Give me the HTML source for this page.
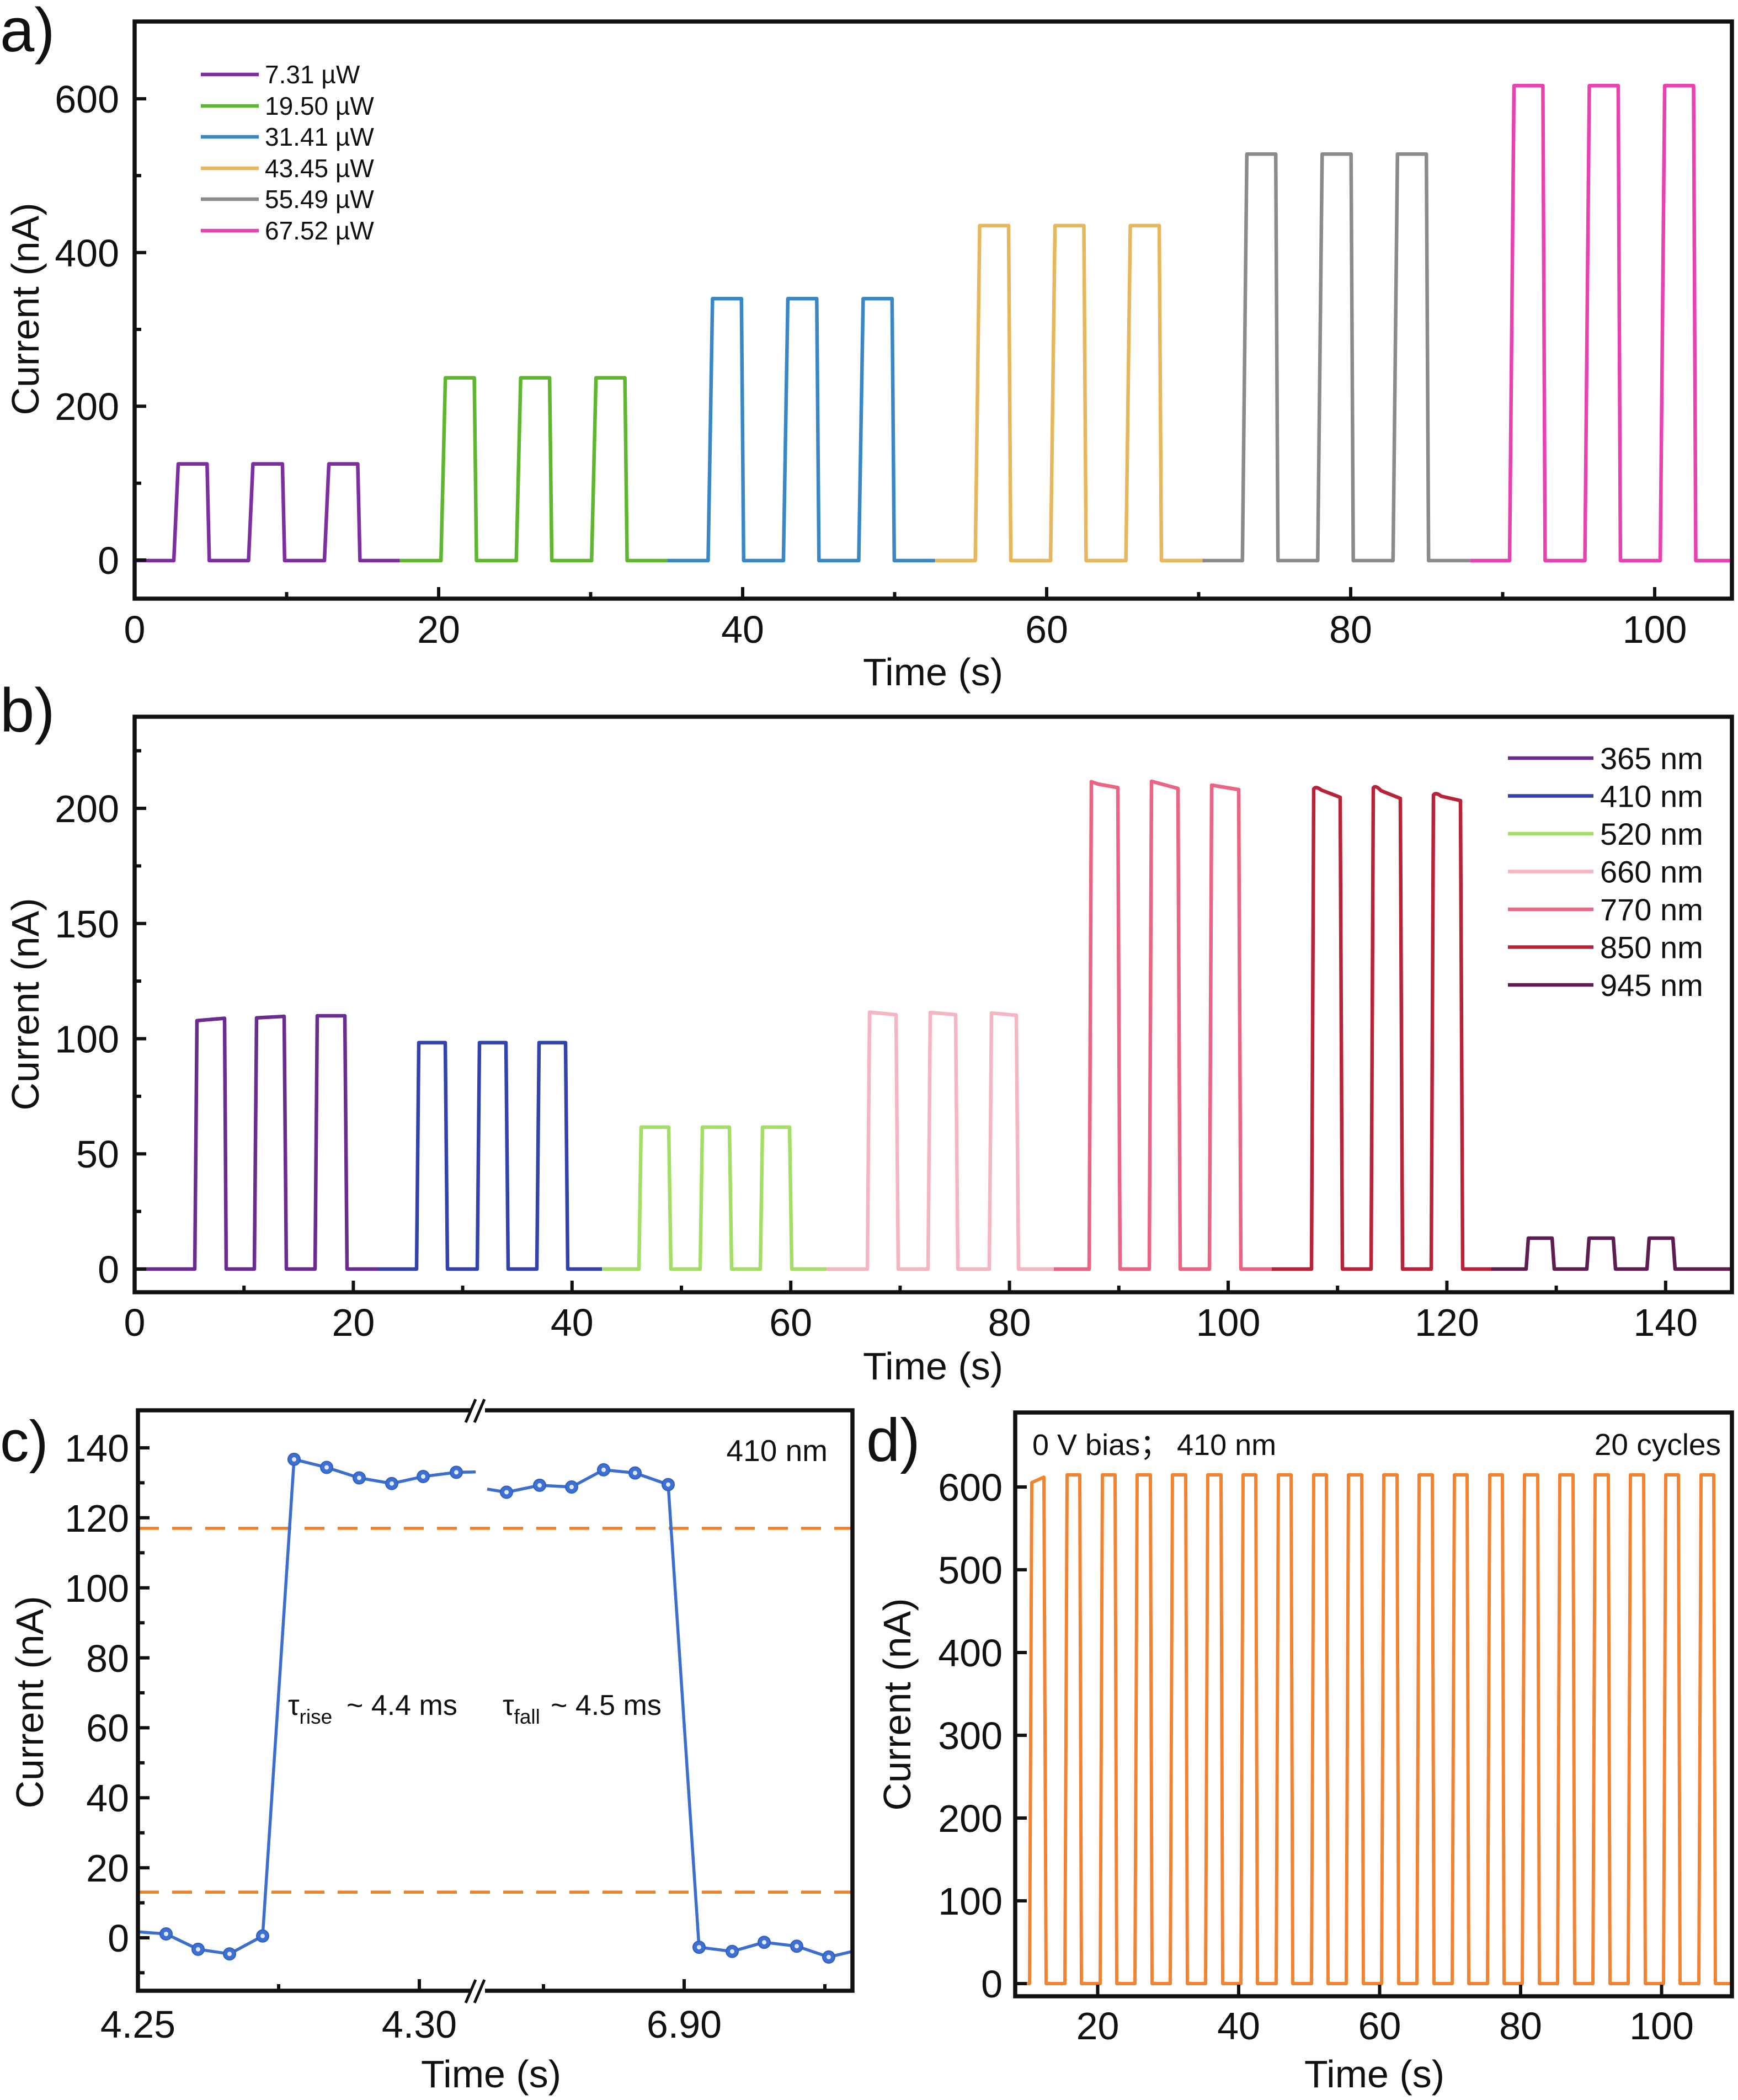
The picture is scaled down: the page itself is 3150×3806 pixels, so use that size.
<!DOCTYPE html>
<html>
<head>
<meta charset="utf-8">
<style>
html,body{margin:0;padding:0;background:#fff;}
svg{display:block;}
text{font-family:"Liberation Sans","Noto Sans CJK SC",sans-serif;fill:#111;}
</style>
</head>
<body>
<svg width="3150" height="3806" viewBox="0 0 3150 3806" xmlns="http://www.w3.org/2000/svg">
<rect x="0" y="0" width="3150" height="3806" fill="#fff"/>

<!-- ================= PANEL A ================= -->
<g fill="none" stroke-width="6.5" stroke-linejoin="round">
<path stroke="#7d2ea3" d="M 246 1016 H 315 L 323 840.8 H 375.3 L 379.3 1016 H 450.4 L 458.4 840.8 H 511.9 L 515.9 1016 H 588 L 596 840.8 H 648.4 L 652.4 1016 H 724.7"/>
<path stroke="#5fb62f" d="M 724.7 1016 H 799.2 L 807.2 684.8 H 859.6 L 863.6 1016 H 935.7 L 943.7 684.8 H 996.1 L 1000.1 1016 H 1072.2 L 1080.2 684.8 H 1132.6 L 1136.6 1016 H 1209.6"/>
<path stroke="#3a87c8" d="M 1209.6 1016 H 1283.4 L 1291.4 541.3 H 1343.8 L 1347.8 1016 H 1419.9 L 1427.9 541.3 H 1480.3 L 1484.3 1016 H 1556.4 L 1564.4 541.3 H 1616.8 L 1620.8 1016 H 1694.5"/>
<path stroke="#e7b75e" d="M 1694.5 1016 H 1767.6 L 1775.6 408.9 H 1828 L 1832 1016 H 1904.1 L 1912.1 408.9 H 1964.5 L 1968.5 1016 H 2040.6 L 2048.6 408.9 H 2101 L 2105 1016 H 2179.4"/>
<path stroke="#8b8b8b" d="M 2179.4 1016 H 2251.8 L 2259.8 279.3 H 2312.2 L 2316.2 1016 H 2388.3 L 2396.3 279.3 H 2448.7 L 2452.7 1016 H 2524.8 L 2532.8 279.3 H 2585.2 L 2589.2 1016 H 2664.3"/>
<path stroke="#e842b0" d="M 2664.3 1016 H 2736 L 2744 155.3 H 2796.4 L 2800.4 1016 H 2872.5 L 2880.5 155.3 H 2932.9 L 2936.9 1016 H 3009.1 L 3017.1 155.3 H 3069.5 L 3073.5 1016 H 3135"/>
</g>
<rect x="244" y="39" width="2895" height="1046" fill="none" stroke="#111" stroke-width="7.5"/>
<g stroke="#111" stroke-width="6">
<path d="M795 1085 V1064 M1346 1085 V1064 M1897 1085 V1064 M2448 1085 V1064 M2999 1085 V1064"/>
<path d="M519.5 1085 V1073 M1070.5 1085 V1073 M1621.5 1085 V1073 M2172.5 1085 V1073 M2723.5 1085 V1073"/>
<path d="M244 1015 H265 M244 736.3 H265 M244 457.7 H265 M244 179 H265"/>
<path d="M244 875.7 H256 M244 597 H256 M244 318.3 H256"/>
</g>
<g font-size="70" text-anchor="end">
<text x="216" y="1040">0</text>
<text x="216" y="761">200</text>
<text x="216" y="483">400</text>
<text x="216" y="204">600</text>
</g>
<g font-size="70" text-anchor="middle">
<text x="244" y="1165">0</text>
<text x="795" y="1165">20</text>
<text x="1346" y="1165">40</text>
<text x="1897" y="1165">60</text>
<text x="2448" y="1165">80</text>
<text x="2999" y="1165">100</text>
<text x="1691" y="1242">Time (s)</text>
<text transform="translate(70,560) rotate(-90)">Current (nA)</text>
</g>
<text x="0" y="93" font-size="112">a)</text>
<!-- legend a -->
<g stroke-width="6.5">
<line x1="364" y1="135" x2="469" y2="135" stroke="#7d2ea3"/>
<line x1="364" y1="192" x2="469" y2="192" stroke="#5fb62f"/>
<line x1="364" y1="248" x2="469" y2="248" stroke="#3a87c8"/>
<line x1="364" y1="305" x2="469" y2="305" stroke="#e7b75e"/>
<line x1="364" y1="361" x2="469" y2="361" stroke="#8b8b8b"/>
<line x1="364" y1="418" x2="469" y2="418" stroke="#e842b0"/>
</g>
<g font-size="46">
<text x="480" y="151">7.31 µW</text>
<text x="480" y="208">19.50 µW</text>
<text x="480" y="264">31.41 µW</text>
<text x="480" y="321">43.45 µW</text>
<text x="480" y="377">55.49 µW</text>
<text x="480" y="434">67.52 µW</text>
</g>

<!-- ================= PANEL B ================= -->
<g fill="none" stroke-width="6.5" stroke-linejoin="round">
<path stroke="#6a2c90" d="M 246 2300 H 353 L 357 1849.7 L 407 1845.5 L 410 2300 H 461 L 465 1844.8 L 515 1842 L 519 2300 H 571 L 575 1841 L 625 1841 L 629 2300 H 686"/>
<path stroke="#3343ad" d="M 686 2300 H 755 L 759 1889.6 H 807 L 811 2300 H 865 L 869 1889.6 H 917 L 921 2300 H 973 L 977 1889.6 H 1025 L 1029 2300 H 1091"/>
<path stroke="#a5de67" d="M 1091 2300 H 1158 L 1162 2042.8 H 1212 L 1216 2300 H 1269 L 1273 2042.8 H 1322 L 1326 2300 H 1378 L 1382 2042.8 H 1431 L 1435 2300 H 1498"/>
<path stroke="#f5b5c4" d="M 1498 2300 H 1572 L 1576 1834.5 L 1624 1839 L 1628 2300 H 1682 L 1686 1835 L 1732 1839 L 1736 2300 H 1793 L 1797 1836 L 1842 1840 L 1846 2300 H 1910"/>
<path stroke="#ec6483" d="M 1910 2300 H 1974 L 1978 1416.7 L 1990 1421 L 2026 1427.5 L 2030 2300 H 2083 L 2087 1416 L 2135 1429 L 2139 2300 H 2192 L 2196 1423 L 2245 1431 L 2249 2300 H 2305"/>
<path stroke="#b8233a" d="M 2305 2300 H 2377 L 2381 1430 Q 2385 1424 2395 1432 L 2429 1445 L 2433 2300 H 2485 L 2489 1428 Q 2493 1422 2503 1433 L 2538 1447 L 2542 2300 H 2594 L 2598 1441 Q 2602 1435 2612 1443 L 2647 1451 L 2651 2300 H 2703"/>
<path stroke="#5e1d52" d="M 2703 2300 H 2766 L 2770 2244 H 2813 L 2817 2300 H 2876 L 2880 2244 H 2924 L 2928 2300 H 2985 L 2989 2244 H 3032 L 3036 2300 H 3136"/>
</g>
<rect x="244" y="1299" width="2895" height="1043" fill="none" stroke="#111" stroke-width="7.5"/>
<g stroke="#111" stroke-width="6">
<path d="M640.4 2342 V2321 M1036.8 2342 V2321 M1433.2 2342 V2321 M1829.6 2342 V2321 M2226 2342 V2321 M2622.4 2342 V2321 M3018.8 2342 V2321"/>
<path d="M442.2 2342 V2330 M838.6 2342 V2330 M1235 2342 V2330 M1631.4 2342 V2330 M2027.8 2342 V2330 M2424.2 2342 V2330 M2820.6 2342 V2330"/>
<path d="M244 2300 H265 M244 2091.25 H265 M244 1882.5 H265 M244 1673.75 H265 M244 1465 H265"/>
<path d="M244 2195.6 H256 M244 1986.9 H256 M244 1778.1 H256 M244 1569.4 H256 M244 1360.6 H256"/>
</g>
<g font-size="70" text-anchor="end">
<text x="216" y="2325">0</text>
<text x="216" y="2116">50</text>
<text x="216" y="1907.5">100</text>
<text x="216" y="1699">150</text>
<text x="216" y="1490">200</text>
</g>
<g font-size="70" text-anchor="middle">
<text x="244" y="2421">0</text>
<text x="640.4" y="2421">20</text>
<text x="1036.8" y="2421">40</text>
<text x="1433.2" y="2421">60</text>
<text x="1829.6" y="2421">80</text>
<text x="2226" y="2421">100</text>
<text x="2622.4" y="2421">120</text>
<text x="3018.8" y="2421">140</text>
<text x="1691" y="2500">Time (s)</text>
<text transform="translate(70,1820) rotate(-90)">Current (nA)</text>
</g>
<text x="0" y="1326" font-size="112">b)</text>
<!-- legend b -->
<g stroke-width="6.5">
<line x1="2733" y1="1374" x2="2888" y2="1374" stroke="#6a2c90"/>
<line x1="2733" y1="1442.5" x2="2888" y2="1442.5" stroke="#3343ad"/>
<line x1="2733" y1="1511" x2="2888" y2="1511" stroke="#a5de67"/>
<line x1="2733" y1="1579.5" x2="2888" y2="1579.5" stroke="#f5b5c4"/>
<line x1="2733" y1="1648" x2="2888" y2="1648" stroke="#ec6483"/>
<line x1="2733" y1="1716.5" x2="2888" y2="1716.5" stroke="#b8233a"/>
<line x1="2733" y1="1785" x2="2888" y2="1785" stroke="#5e1d52"/>
</g>
<g font-size="56">
<text x="2900" y="1394">365 nm</text>
<text x="2900" y="1462.5">410 nm</text>
<text x="2900" y="1531">520 nm</text>
<text x="2900" y="1599.5">660 nm</text>
<text x="2900" y="1668">770 nm</text>
<text x="2900" y="1736.5">850 nm</text>
<text x="2900" y="1805">945 nm</text>
</g>

<!-- ================= PANEL C ================= -->
<g stroke="#f48024" stroke-width="5.5" stroke-dasharray="36 24" fill="none">
<line x1="252" y1="2769.9" x2="1543" y2="2769.9"/>
<line x1="252" y1="3429.3" x2="1543" y2="3429.3"/>
</g>
<g fill="none" stroke="#3c6ed0" stroke-width="5.5" stroke-linejoin="round">
<polyline points="250,3501.2 301,3505 359,3532.9 416,3541.2 476,3508.8 533,2644.9 592,2659.5 651,2678.5 710,2688.7 767,2676 827,2668.4 862,2667.7"/>
<polyline points="883,2698.8 918,2704.5 978,2691.9 1036,2695 1094,2663.9 1151,2669.6 1211,2690.6 1267,3529.1 1327,3536.7 1385,3520.2 1444,3527.2 1502,3546.9 1545,3536.7"/>
</g>
<g fill="#3d70d2" stroke="#2f5fbf" stroke-width="2">
<circle cx="301" cy="3505" r="11"/><circle cx="359" cy="3532.9" r="11"/><circle cx="416" cy="3541.2" r="11"/><circle cx="476" cy="3508.8" r="11"/>
<circle cx="533" cy="2644.9" r="11"/><circle cx="592" cy="2659.5" r="11"/><circle cx="651" cy="2678.5" r="11"/><circle cx="710" cy="2688.7" r="11"/><circle cx="767" cy="2676" r="11"/><circle cx="827" cy="2668.4" r="11"/>
<circle cx="918" cy="2704.5" r="11"/><circle cx="978" cy="2691.9" r="11"/><circle cx="1036" cy="2695" r="11"/><circle cx="1094" cy="2663.9" r="11"/><circle cx="1151" cy="2669.6" r="11"/><circle cx="1211" cy="2690.6" r="11"/>
<circle cx="1267" cy="3529.1" r="11"/><circle cx="1327" cy="3536.7" r="11"/><circle cx="1385" cy="3520.2" r="11"/><circle cx="1444" cy="3527.2" r="11"/><circle cx="1502" cy="3546.9" r="11"/>
</g>
<g fill="#dfe9ff">
<circle cx="301" cy="3505" r="4"/><circle cx="359" cy="3532.9" r="4"/><circle cx="416" cy="3541.2" r="4"/><circle cx="476" cy="3508.8" r="4"/>
<circle cx="533" cy="2644.9" r="4"/><circle cx="592" cy="2659.5" r="4"/><circle cx="651" cy="2678.5" r="4"/><circle cx="710" cy="2688.7" r="4"/><circle cx="767" cy="2676" r="4"/><circle cx="827" cy="2668.4" r="4"/>
<circle cx="918" cy="2704.5" r="4"/><circle cx="978" cy="2691.9" r="4"/><circle cx="1036" cy="2695" r="4"/><circle cx="1094" cy="2663.9" r="4"/><circle cx="1151" cy="2669.6" r="4"/><circle cx="1211" cy="2690.6" r="4"/>
<circle cx="1267" cy="3529.1" r="4"/><circle cx="1327" cy="3536.7" r="4"/><circle cx="1385" cy="3520.2" r="4"/><circle cx="1444" cy="3527.2" r="4"/><circle cx="1502" cy="3546.9" r="4"/>
</g>
<rect x="250" y="2556" width="1295" height="1052" fill="none" stroke="#111" stroke-width="7.5"/>
<!-- axis break marks -->
<rect x="855" y="2546" width="24" height="20" fill="#fff"/>
<rect x="855" y="3598" width="24" height="20" fill="#fff"/>
<g stroke="#111" stroke-width="5">
<line x1="844" y1="2578" x2="862" y2="2536"/>
<line x1="860" y1="2578" x2="878" y2="2536"/>
<line x1="844" y1="3630" x2="862" y2="3588"/>
<line x1="860" y1="3630" x2="878" y2="3588"/>
</g>
<g stroke="#111" stroke-width="6">
<path d="M760 3608 V3587 M1240 3608 V3587"/>
<path d="M505 3608 V3596 M985 3608 V3596 M1495 3608 V3596"/>
<path d="M250 3512 H271 M250 3385.1 H271 M250 3258.3 H271 M250 3131.4 H271 M250 3004.6 H271 M250 2877.7 H271 M250 2750.8 H271 M250 2624 H271"/>
<path d="M250 3575.4 H262 M250 3448.6 H262 M250 3321.7 H262 M250 3194.9 H262 M250 3068 H262 M250 2941.1 H262 M250 2814.3 H262 M250 2687.4 H262"/>
</g>
<g font-size="70" text-anchor="end">
<text x="234" y="3537">0</text>
<text x="234" y="3410">20</text>
<text x="234" y="3283">40</text>
<text x="234" y="3156">60</text>
<text x="234" y="3030">80</text>
<text x="234" y="2903">100</text>
<text x="234" y="2776">120</text>
<text x="234" y="2649">140</text>
</g>
<g font-size="70" text-anchor="middle">
<text x="250" y="3693">4.25</text>
<text x="760" y="3693">4.30</text>
<text x="1240" y="3693">6.90</text>
<text x="890" y="3783">Time (s)</text>
<text transform="translate(78,3085) rotate(-90)">Current (nA)</text>
</g>
<text x="0" y="2648" font-size="105">c)</text>
<text x="1500" y="2648" font-size="55" text-anchor="end">410 nm</text>
<text x="522" y="3108" font-size="52">τ<tspan font-size="37" y="3124">rise</tspan><tspan x="628" y="3108">~ 4.4 ms</tspan></text>
<text x="911" y="3108" font-size="52">τ<tspan font-size="37" y="3124">fall</tspan><tspan x="998" y="3108">~ 4.5 ms</tspan></text>

<!-- ================= PANEL D ================= -->
<path fill="none" stroke="#f28430" stroke-width="6" stroke-linejoin="round" d="M 1843 3595 H 1866 L 1870 2687 L 1892 2677 L 1896 3595
H 1930 L 1934 2673 H 1957 L 1960 3595
H 1994 L 1998 2673 H 2021 L 2024 3595
H 2057 L 2061 2673 H 2085 L 2088 3595
H 2121 L 2125 2673 H 2149 L 2152 3595
H 2185 L 2189 2673 H 2213 L 2216 3595
H 2249 L 2253 2673 H 2276 L 2279 3595
H 2313 L 2317 2673 H 2340 L 2343 3595
H 2377 L 2381 2673 H 2404 L 2407 3595
H 2440 L 2444 2673 H 2468 L 2471 3595
H 2504 L 2508 2673 H 2532 L 2535 3595
H 2568 L 2572 2673 H 2596 L 2599 3595
H 2632 L 2636 2673 H 2659 L 2662 3595
H 2696 L 2700 2673 H 2723 L 2726 3595
H 2759 L 2763 2673 H 2787 L 2790 3595
H 2823 L 2827 2673 H 2851 L 2854 3595
H 2887 L 2891 2673 H 2915 L 2918 3595
H 2951 L 2955 2673 H 2979 L 2982 3595
H 3015 L 3019 2673 H 3042 L 3045 3595
H 3079 L 3083 2673 H 3106 L 3109 3595 H 3136"/>
<rect x="1840" y="2560" width="1299" height="1058" fill="none" stroke="#111" stroke-width="7.5"/>
<g stroke="#111" stroke-width="6">
<path d="M1989.5 3618 V3597 M2245 3618 V3597 M2500.5 3618 V3597 M2756 3618 V3597 M3011.5 3618 V3597"/>
<path d="M1840 3595 H1861 M1840 3445 H1861 M1840 3295 H1861 M1840 3145 H1861 M1840 2995 H1861 M1840 2845 H1861 M1840 2695 H1861"/>
</g>
<g font-size="70" text-anchor="end">
<text x="1817" y="3620">0</text>
<text x="1817" y="3470">100</text>
<text x="1817" y="3320">200</text>
<text x="1817" y="3170">300</text>
<text x="1817" y="3020">400</text>
<text x="1817" y="2870">500</text>
<text x="1817" y="2720">600</text>
</g>
<g font-size="70" text-anchor="middle">
<text x="1989.5" y="3696">20</text>
<text x="2245" y="3696">40</text>
<text x="2500.5" y="3696">60</text>
<text x="2756" y="3696">80</text>
<text x="3011.5" y="3696">100</text>
<text x="2491" y="3783">Time (s)</text>
<text transform="translate(1650,3089) rotate(-90)">Current (nA)</text>
</g>
<text x="1570" y="2648" font-size="110">d)</text>
<text x="1871" y="2637" font-size="54">0 V bias；<tspan x="2133">410 nm</tspan></text>
<text x="3119" y="2637" font-size="55" text-anchor="end">20 cycles</text>
</svg>
</body>
</html>
